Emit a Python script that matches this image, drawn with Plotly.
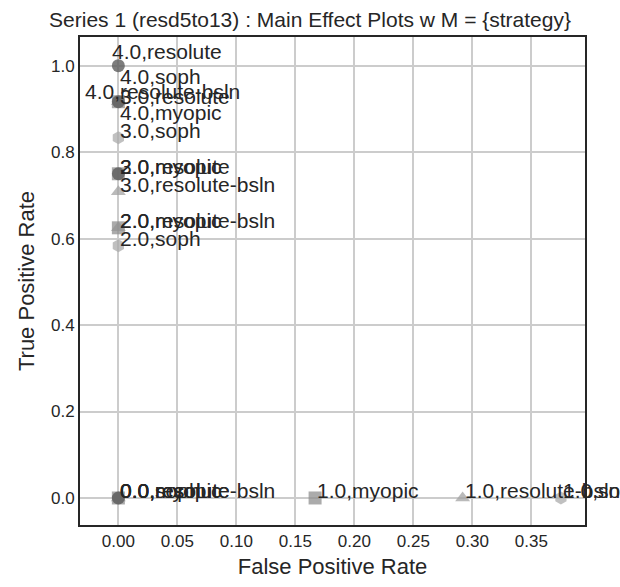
import plotly.graph_objects as go

# Main-effect points per strategy: (level, FPR, TPR)
strategies = ["resolute", "myopic", "resolute-bsln", "soph"]

resolute_levels = ["0.0", "2.0", "3.0", "4.0"]
resolute_fpr = [0.0, 0.0, 0.0, 0.0]
resolute_tpr = [0.0, 0.75, 0.9167, 1.0]

myopic_levels = ["0.0", "1.0", "2.0", "3.0", "4.0"]
myopic_fpr = [0.0, 0.1667, 0.0, 0.0, 0.0]
myopic_tpr = [0.0, 0.0, 0.625, 0.75, 0.9167]

bsln_levels = ["0.0", "1.0", "2.0", "3.0", "4.0"]
bsln_fpr = [0.0, 0.2917, 0.0, 0.0, 0.0]
bsln_tpr = [0.0, 0.0, 0.625, 0.7083, 0.9167]

soph_levels = ["0.0", "1.0", "2.0", "3.0", "4.0"]
soph_fpr = [0.0, 0.375, 0.0, 0.0, 0.0]
soph_tpr = [0.0, 0.0, 0.5833, 0.8333, 0.9167]

x_ticks = [0.0, 0.05, 0.10, 0.15, 0.20, 0.25, 0.30, 0.35]
y_ticks = [0.0, 0.2, 0.4, 0.6, 0.8, 1.0]

series = {
    "resolute": (resolute_levels, resolute_fpr, resolute_tpr),
    "myopic": (myopic_levels, myopic_fpr, myopic_tpr),
    "resolute-bsln": (bsln_levels, bsln_fpr, bsln_tpr),
    "soph": (soph_levels, soph_fpr, soph_tpr),
}

marker_style = {
    "resolute": dict(symbol="circle", color="#5c5c5c", opacity=0.8),
    "myopic": dict(symbol="square", color="#8f8f8f", opacity=0.75),
    "resolute-bsln": dict(symbol="triangle-up", color="#a3a3a3", opacity=0.75),
    "soph": dict(symbol="hexagon", color="#ababab", opacity=0.75),
}

# pixel offsets for the labels so that overlapping ones stay readable
label_shift = {
    ("resolute", "4.0"): (-8, 14),
    ("soph", "4.0"): (0, 25),
    ("resolute-bsln", "4.0"): (-35, 10),
    ("resolute", "3.0"): (0, 5),
    ("myopic", "4.0"): (0, -11),
}

text_color = "#262626"
fig = go.Figure()
plot_order = ["soph", "resolute-bsln", "myopic", "resolute"]
for name in plot_order:
    levels, fpr, tpr = series[name]
    st = marker_style[name]
    fig.add_trace(go.Scatter(
        x=fpr, y=tpr, mode="markers", name=name,
        marker=dict(symbol=st["symbol"], color=st["color"], size=13,
                    opacity=st["opacity"], line=dict(width=0)),
        cliponaxis=False,
    ))

annotations = []
for name in strategies:
    levels, fpr, tpr = series[name]
    for lv, xv, yv in zip(levels, fpr, tpr):
        dx, dy = label_shift.get((name, lv), (0, 7))
        annotations.append(dict(
            x=xv, y=yv, xref="x", yref="y", text=f"{lv},{name}",
            showarrow=False, xanchor="left", yanchor="middle",
            xshift=dx, yshift=dy,
            font=dict(size=21, color=text_color,
                      family="Liberation Sans, Arial, sans-serif"),
        ))

fig.update_layout(
    width=620, height=587,
    margin=dict(l=80, r=35, t=37, b=57),
    paper_bgcolor="white", plot_bgcolor="white",
    showlegend=False,
    font=dict(family="Liberation Sans, Arial, sans-serif", color=text_color),
    title=dict(text="Series 1 (resd5to13) : Main Effect Plots w M = {strategy}",
               x=0.5, xanchor="center", y=1 - 20 / 587, yanchor="middle",
               font=dict(size=21, color=text_color)),
    annotations=annotations,
)
fig.update_xaxes(
    range=[-0.0325, 0.3954], tickvals=x_ticks,
    ticktext=[f"{v:.2f}" for v in x_ticks],
    showgrid=True, gridcolor="#cccccc", gridwidth=1.5, zeroline=False,
    showline=True, linecolor="#262626", linewidth=2, mirror=True,
    ticks="", tickfont=dict(size=17, color=text_color),
    title=dict(text="False Positive Rate", font=dict(size=22, color=text_color),
               standoff=8),
)
fig.update_yaxes(
    range=[-0.0625, 1.0664], tickvals=y_ticks,
    ticktext=[f"{v:.1f}" for v in y_ticks],
    showgrid=True, gridcolor="#cccccc", gridwidth=1.5, zeroline=False,
    showline=True, linecolor="#262626", linewidth=2, mirror=True,
    ticks="", tickfont=dict(size=17, color=text_color),
    title=dict(text="True Positive Rate", font=dict(size=22, color=text_color),
               standoff=10),
)

fig.write_html("out.html")
